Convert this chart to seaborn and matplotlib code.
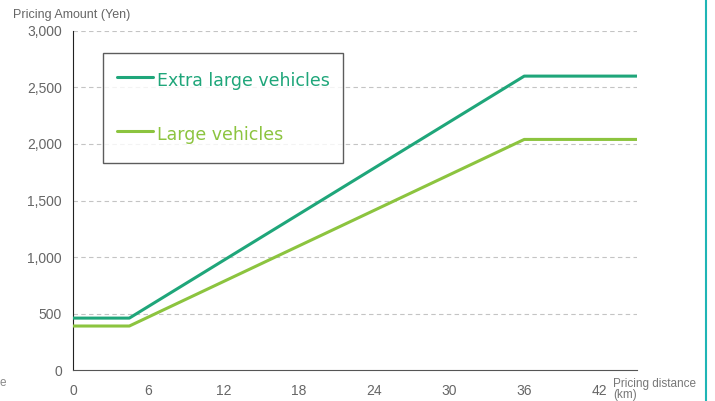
import pandas as pd
import matplotlib.pyplot as plt
import seaborn as sns
from matplotlib.lines import Line2D

# values
distance = [0, 4.5, 36, 45]
extra_large = [460, 460, 2600, 2600]
large = [390, 390, 2040, 2040]
series_names = ["Extra large vehicles", "Large vehicles"]
colors = ["#1fa67a", "#8cc43f"]
x_ticks = [0, 6, 12, 18, 24, 30, 36, 42]
y_ticks = [0, 500, 1000, 1500, 2000, 2500, 3000]

df = pd.DataFrame({
    "distance": distance * 2,
    "amount": extra_large + large,
    "vehicle": [series_names[0]] * len(distance) + [series_names[1]] * len(distance),
})

sns.set_style("white")
plt.rcParams["font.family"] = ["Liberation Sans", "DejaVu Sans"]

fig = plt.figure(figsize=(7.15, 4.01), dpi=100)
ax = fig.add_axes([0.102, 0.077, 0.789, 0.846])

sns.lineplot(data=df, x="distance", y="amount", hue="vehicle",
             palette=dict(zip(series_names, colors)), linewidth=2.2,
             legend=False, ax=ax, zorder=3)

ax.set_xlim(0, 45)
ax.set_ylim(0, 3000)
ax.set_xticks(x_ticks)
ax.set_yticks(y_ticks)
ax.set_yticklabels([f"{v:,}" for v in y_ticks])
ax.set_xlabel("")
ax.set_ylabel("")
ax.tick_params(axis="both", colors="#222222", labelcolor="#666666",
               labelsize=10, length=5, width=1, direction="out")
ax.tick_params(axis="y", pad=3)
ax.tick_params(axis="x", pad=5)

for y in y_ticks[1:]:
    ax.axhline(y, color="#c4c4c4", linestyle=(0, (4, 3)), linewidth=0.8, zorder=1)

sns.despine(ax=ax)
ax.spines["left"].set_color("#222222")
ax.spines["bottom"].set_color("#555555")

handles = [Line2D([0], [0], color=c, lw=2.2) for c in colors]
leg = ax.legend(handles, series_names, loc="upper left", bbox_to_anchor=(0.053, 0.935),
                frameon=True, fancybox=False, edgecolor="#333333",
                prop={"family": "DejaVu Sans", "size": 12.5},
                handlelength=2.07, handleheight=2.1, handletextpad=0.23,
                labelspacing=1.5, borderpad=0.8, borderaxespad=0)
leg.get_frame().set_linewidth(1.0)
for txt, c in zip(leg.get_texts(), colors):
    txt.set_color(c)

fig.text(0.018, 0.963, "Pricing Amount (Yen)", color="#666666", fontsize=9, va="center")
fig.text(0.858, 0.028, "Pricing distance\n(km)", color="#777777", fontsize=8.5,
         va="center", linespacing=0.85)
fig.text(0.008, 0.045, "e", color="#888888", fontsize=8.5, ha="right", va="center")

fig.add_artist(Line2D([0.987, 0.987], [0, 1], color="#1fb5b5", lw=1.5,
                      transform=fig.transFigure))

fig.savefig("out.png", dpi=100)
